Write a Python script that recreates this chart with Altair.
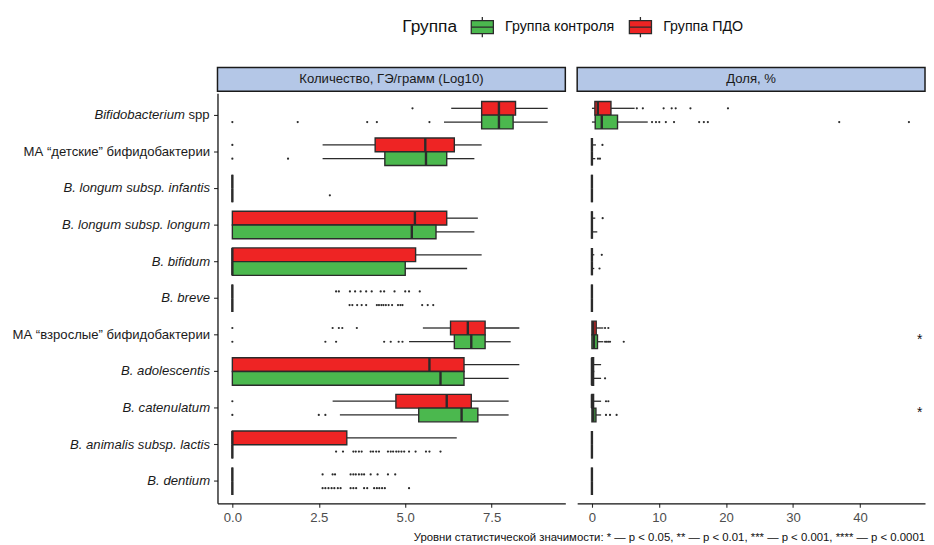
import altair as alt
import pandas as pd

FONT = "Liberation Sans"
DARK = "#2b2b2b"
W, H = 352, 415
FS = 13.3

categories = [
    "Bifidobacterium spp",
    "МА “детские” бифидобактерии",
    "B. longum subsp. infantis",
    "B. longum subsp. longum",
    "B. bifidum",
    "B. breve",
    "МА “взрослые” бифидобактерии",
    "B. adolescentis",
    "B. catenulatum",
    "B. animalis subsp. lactis",
    "B. dentium",
]
groups = ["Группа контроля", "Группа ПДО"]
group_colors = ["#4BB84E", "#EE2424"]

# ---- Panel 1: Количество, ГЭ/грамм (Log10) ----
log_pdo_lo = [6.33, 2.61, 0, 0, 0, 0, 5.51, 0, 2.90, 0, 0]
log_pdo_q1 = [7.21, 4.13, 0, 0, 0, 0, 6.31, 0, 4.73, 0, 0]
log_pdo_med = [7.71, 5.58, 0, 5.28, 0, 0, 6.81, 5.70, 6.20, 0, 0]
log_pdo_q3 = [8.19, 6.42, 0, 6.20, 5.30, 0, 7.31, 6.70, 6.91, 3.31, 0]
log_pdo_hi = [9.12, 7.21, 0, 7.10, 7.21, 0, 8.30, 8.30, 7.99, 6.49, 0]
log_pdo_out = [
    [5.21],
    [0.0],
    [],
    [],
    [],
    [3.00, 3.08, 3.40, 3.55, 3.71, 3.87, 4.03, 4.29, 4.39, 4.69, 5.00, 5.11, 5.42],
    [0.0, 2.90, 3.08, 3.18, 3.60],
    [],
    [0.0],
    [],
    [2.61, 2.90, 2.97, 3.42, 3.50, 3.57, 3.66, 3.74, 3.81, 4.00, 4.20, 4.50, 4.71],
]

log_ctl_lo = [6.12, 2.61, 0, 0, 0, 0, 5.11, 0, 3.11, 0, 0]
log_ctl_q1 = [7.21, 4.41, 0, 0, 0, 0, 6.42, 0, 5.39, 0, 0]
log_ctl_med = [7.71, 5.60, 0, 5.19, 0, 0, 6.91, 6.02, 6.63, 0, 0]
log_ctl_q3 = [8.12, 6.20, 0, 5.89, 5.00, 0, 7.31, 6.70, 7.10, 0, 0]
log_ctl_hi = [9.12, 7.00, 0, 7.00, 6.79, 0, 8.05, 7.99, 7.99, 0, 0]
log_ctl_out = [
    [0.0, 1.89, 3.90, 4.18, 5.70],
    [0.0, 1.61],
    [2.82],
    [],
    [],
    [3.39, 3.47, 3.61, 3.74, 3.87, 4.18, 4.24, 4.31, 4.37, 4.44, 4.52, 4.62,
     4.79, 4.86, 4.92, 5.49, 5.65, 5.81],
    [0.0, 2.69, 3.00, 4.39, 4.58, 4.81, 4.92],
    [],
    [0.0, 2.50, 2.69],
    [3.00, 3.20, 3.50, 3.57, 3.66, 3.74, 4.00, 4.07, 4.16, 4.24, 4.50, 4.58,
     4.65, 4.74, 4.81, 4.89, 4.97, 5.11, 5.30, 5.60, 5.70, 6.02],
    [2.61, 2.69, 2.78, 2.87, 2.95, 3.05, 3.13, 3.42, 3.50, 3.58, 3.81, 3.90,
     4.10, 4.18, 4.25, 4.33, 4.41, 5.11],
]

# ---- Panel 2: Доля, % ----
pct_pdo_lo = [0, 0, 0, 0, 0, 0, 0, 0, 0, 0, 0]
pct_pdo_q1 = [0.44, 0, 0, 0, 0, 0, 0, 0, 0, 0, 0]
pct_pdo_med = [0.88, 0, 0, 0, 0, 0, 0.20, 0, 0, 0, 0]
pct_pdo_q3 = [2.84, 0, 0, 0, 0, 0, 0.64, 0.25, 0.25, 0, 0]
pct_pdo_hi = [6.37, 0.60, 0, 0.50, 0.35, 0, 1.70, 1.37, 1.37, 0, 0]
pct_pdo_out = [
    [6.7, 7.6, 10.7, 11.9, 12.5, 14.7, 20.3],
    [1.57],
    [],
    [1.6],
    [1.47],
    [],
    [1.96, 2.45],
    [],
    [2.1, 2.45],
    [],
    [],
]

pct_ctl_lo = [0, 0, 0, 0, 0, 0, 0, 0, 0, 0, 0]
pct_ctl_q1 = [0.49, 0, 0, 0, 0, 0, 0, 0, 0, 0, 0]
pct_ctl_med = [1.47, 0, 0, 0, 0, 0, 0.30, 0, 0.20, 0, 0]
pct_ctl_q3 = [3.82, 0, 0, 0, 0, 0, 0.83, 0.25, 0.60, 0, 0]
pct_ctl_hi = [8.33, 0.50, 0, 0.80, 0.35, 0, 1.70, 1.37, 1.37, 0, 0]
pct_ctl_out = [
    [8.97, 9.56, 10.05, 11.03, 12.25, 16.0, 16.7, 17.3, 36.9, 47.3],
    [0.9, 1.2],
    [],
    [],
    [1.13],
    [],
    [1.96, 2.2, 2.45, 2.7, 4.75],
    [1.96],
    [2.1, 2.7, 3.68],
    [],
    [],
]

signif_categories = ["МА “взрослые” бифидобактерии", "B. catenulatum"]
signif_marks = ["*", "*"]
signif_x = [48.9, 48.9]

header_texts = ["Количество, ГЭ/грамм (Log10)", "Доля, %"]
caption = ("Уровни статистической значимости: * — p < 0.05, ** — p < 0.01, "
           "*** — p < 0.001, **** — p < 0.0001")

# ---- tables ----
box_rows, out_rows = [], []


def add(panel, group, lo, q1, med, q3, hi, outs):
    for i, cat in enumerate(categories):
        box_rows.append(dict(panel=panel, category=cat, group=group, lo=lo[i],
                             q1=q1[i], med=med[i], q3=q3[i], hi=hi[i]))
        for v in outs[i]:
            out_rows.append(dict(panel=panel, category=cat, group=group, value=v))


add("log", groups[1], log_pdo_lo, log_pdo_q1, log_pdo_med, log_pdo_q3, log_pdo_hi, log_pdo_out)
add("log", groups[0], log_ctl_lo, log_ctl_q1, log_ctl_med, log_ctl_q3, log_ctl_hi, log_ctl_out)
add("pct", groups[1], pct_pdo_lo, pct_pdo_q1, pct_pdo_med, pct_pdo_q3, pct_pdo_hi, pct_pdo_out)
add("pct", groups[0], pct_ctl_lo, pct_ctl_q1, pct_ctl_med, pct_ctl_q3, pct_ctl_hi, pct_ctl_out)
box_df = pd.DataFrame(box_rows)
out_df = pd.DataFrame(out_rows)

legend_symbol = ("M-1,-0.59H1V0.59H-1Z M-1,0H1 M0,-0.59V-0.92 M0,0.59V0.92")
legend = alt.Legend(
    title="Группа", orient="none", legendX=187, legendY=-79,
    direction="horizontal", titleOrient="left", titleFontSize=17.5,
    titleFontWeight="normal", titleFont=FONT, titleColor="#111",
    titlePadding=13, labelFont=FONT, labelFontSize=14.4, labelColor="#111",
    symbolType=legend_symbol, symbolSize=500, symbolStrokeColor=DARK,
    symbolStrokeWidth=1.3, symbolOpacity=1, columnPadding=12, labelOffset=11,
)

yoff = alt.YOffset("group:N", scale=alt.Scale(domain=[groups[1], groups[0]],
                                               paddingInner=0, paddingOuter=0))
yscale = alt.Scale(domain=categories, paddingInner=0.25, paddingOuter=0.225)


def make_panel(key, domain, tick_vals, fmt, header, left):
    bd = box_df[box_df.panel == key]
    od = out_df[out_df.panel == key]
    if left:
        yaxis = alt.Axis(
            title=None, labelFont=FONT, labelFontSize=FS, labelColor="#1a1a1a",
            labelFontStyle={"condition": {"test": "indexof(datum.value, 'МА') === 0",
                                          "value": "normal"}, "value": "italic"},
            labelExpr="datum.value == 'Bifidobacterium spp' ? '' : datum.value",
            tickSize=4, tickColor=DARK, tickWidth=1.1, labelPadding=4,
            domainColor="#111", domainWidth=1.3, labelLimit=400,
        )
    else:
        yaxis = None
    xs = alt.Scale(domain=domain, nice=False, zero=False)
    xaxis = alt.Axis(title=None, values=tick_vals, format=fmt, labelFont=FONT,
                     labelFontSize=FS, labelColor="#4d4d4d", tickSize=4,
                     tickColor=DARK, tickWidth=1.1, domainColor="#111",
                     domainWidth=1.3, grid=False, labelPadding=3)
    Y = alt.Y("category:N", scale=yscale, axis=yaxis, sort=categories)
    base = alt.Chart(bd).encode(y=Y, yOffset=yoff)
    w_lo = base.mark_rule(color=DARK, strokeWidth=1.3).encode(
        x=alt.X("lo:Q", scale=xs, axis=xaxis), x2="q1:Q")
    w_hi = base.mark_rule(color=DARK, strokeWidth=1.3).encode(
        x=alt.X("q3:Q", scale=xs, axis=xaxis), x2="hi:Q")
    box = base.mark_bar(stroke=DARK, strokeWidth=1.4, opacity=1).encode(
        x=alt.X("q1:Q", scale=xs, axis=xaxis), x2="q3:Q",
        color=alt.Color("group:N", scale=alt.Scale(domain=groups, range=group_colors),
                        legend=legend if left else None))
    med = base.mark_bar(fillOpacity=0, stroke=DARK, strokeWidth=2.4).encode(
        x=alt.X("med:Q", scale=xs, axis=xaxis), x2="med:Q")
    pts = alt.Chart(od).mark_circle(size=5, color=DARK, opacity=1).encode(
        x=alt.X("value:Q", scale=xs, axis=xaxis), y=Y, yOffset=yoff)
    hdr_df = pd.DataFrame({"t": [header]})
    hdr = alt.Chart(hdr_df).mark_rect(fill="#b4c7e7", stroke="#1a1a1a",
                                      strokeWidth=1.5).encode(
        x=alt.value(0), x2=alt.value(W), y=alt.value(-26), y2=alt.value(-2))
    hdr_t = alt.Chart(hdr_df).mark_text(font=FONT, fontSize=FS, color="#1a1a1a",
                                        baseline="middle").encode(
        x=alt.value(W / 2), y=alt.value(-14), text="t:N")
    layers = [hdr, hdr_t, w_lo, w_hi, box, med, pts]
    if left:
        spp_df = pd.DataFrame({"category": [categories[0]], "a": ["Bifidobacterium"],
                               "b": ["spp"]})
        la = alt.Chart(spp_df).mark_text(font=FONT, fontSize=FS, fontStyle="italic",
                                         align="right", baseline="middle",
                                         color="#1a1a1a").encode(
            x=alt.value(-33), y=Y, text="a:N")
        lb = alt.Chart(spp_df).mark_text(font=FONT, fontSize=FS, align="right",
                                         baseline="middle", color="#1a1a1a").encode(
            x=alt.value(-8), y=Y, text="b:N")
        layers += [la, lb]
    else:
        sig_df = pd.DataFrame({"category": signif_categories, "s": signif_marks,
                               "x": signif_x})
        sig = alt.Chart(sig_df).mark_text(font=FONT, fontSize=14, color="#111",
                                          baseline="middle", dy=5).encode(
            x=alt.X("x:Q", scale=xs, axis=xaxis), y=Y, text="s:N")
        cap_df = pd.DataFrame({"t": [caption]})
        cap = alt.Chart(cap_df).mark_text(font=FONT, fontSize=11.5, color="#111",
                                          align="right", baseline="middle").encode(
            x=alt.value(W), y=alt.value(H + 35), text="t:N")
        layers += [sig, cap]
    return alt.layer(*layers).properties(width=W, height=H)


left = make_panel("log", [-0.43, 9.63], [0, 2.5, 5, 7.5], ".1f", header_texts[0], True)
right = make_panel("pct", [-2.2, 49.7], [0, 10, 20, 30, 40], "d", header_texts[1], False)

chart = alt.hconcat(left, right, spacing=12, bounds="flush").properties(
    padding={"left": 3, "top": 4, "right": 0, "bottom": 0},
    background="white",
).configure_view(stroke=None)

chart.save("out.html", embed_options={"renderer": "svg", "actions": False})
